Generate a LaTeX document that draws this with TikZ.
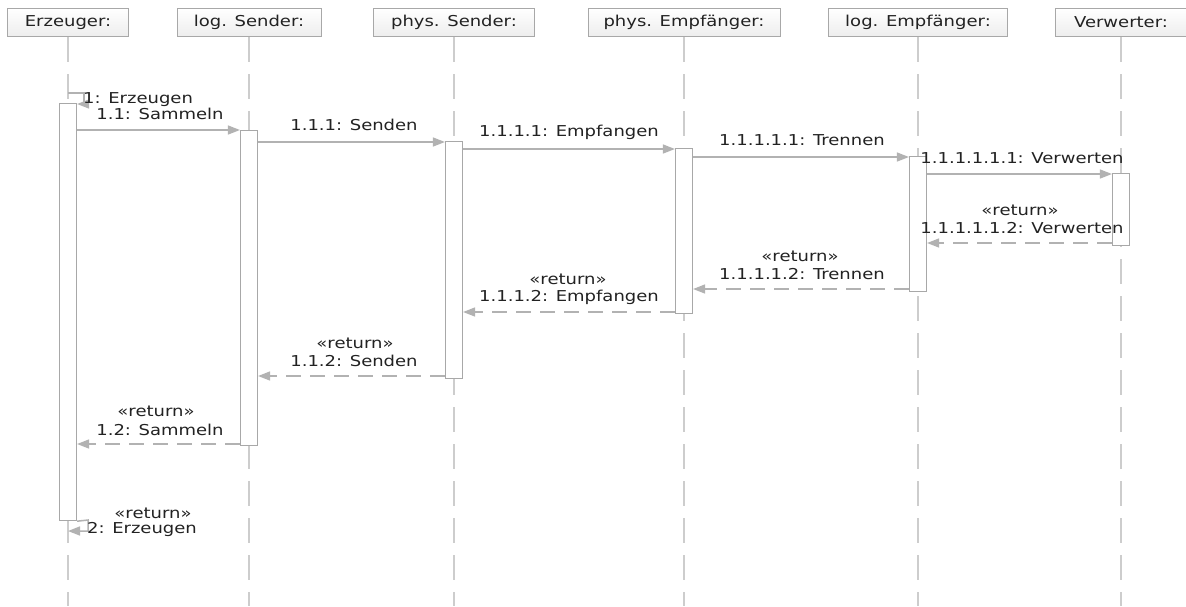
\documentclass[tikz,border=0pt]{standalone}
\usepackage{fontspec}
\setmainfont{DejaVu Sans}[FakeStretch=1.2]
\usetikzlibrary{arrows.meta}
\definecolor{linegray}{HTML}{B2B2B2}
\definecolor{lifegray}{HTML}{CDCDCD}
\definecolor{bargray}{HTML}{A8A8A8}
\definecolor{txt}{HTML}{222222}
\begin{document}
\begin{tikzpicture}[x=1pt,y=-1pt,
  every node/.style={font=\fontsize{15}{17}\selectfont, text=txt, inner sep=0pt},
  head/.style={draw=bargray, line width=1pt, top color=white, bottom color=gray!14,
    minimum height=28pt, anchor=north},
  life/.style={draw=lifegray, line width=1.6pt, dash pattern=on 25pt off 12pt},
  bar/.style={draw=bargray, fill=white, line width=1.2pt, minimum width=17pt, anchor=north},
  msg/.style={draw=linegray, line width=1.5pt, -{Triangle[length=12pt,width=9pt]}},
  ret/.style={msg, dash pattern=on 15pt off 9pt}]
\useasboundingbox (0,0) rectangle (1186,606);
\fill[white] (0,0) rectangle (1186,606);
% headers
\node[head, minimum width=121pt] (h1) at (68,8) {Erzeuger:};
\node[head, minimum width=144pt] (h2) at (249,8) {log. Sender:};
\node[head, minimum width=161pt] (h3) at (454,8) {phys. Sender:};
\node[head, minimum width=192pt] (h4) at (684,8) {phys. Empfänger:};
\node[head, minimum width=179pt] (h5) at (918,8) {log. Empfänger:};
\node[head, minimum width=131pt] (h6) at (1121,8) {Verwerter:};
% lifelines
\coordinate (e1) at (68,606);
\coordinate (e2) at (249,606);
\coordinate (e3) at (454,606);
\coordinate (e4) at (684,606);
\coordinate (e5) at (918,606);
\coordinate (e6) at (1121,606);
\foreach \i in {1,...,6} \draw[life] (h\i.south) -- (e\i);
% activation bars
\node[bar, minimum height=417pt] (b1) at (68,103) {};
\node[bar, minimum height=315pt] (b2) at (249,130) {};
\node[bar, minimum height=237pt] (b3) at (454,141) {};
\node[bar, minimum height=165pt] (b4) at (684,148) {};
\node[bar, minimum height=135pt] (b5) at (918,156) {};
\node[bar, minimum height=72pt] (b6) at (1121,173) {};
% self call 1
\coordinate (s1a) at (68,93);
\coordinate (s1b) at (84,93);
\coordinate (s1c) at (84,104);
\draw[msg] (s1a) -- (s1b) -- (s1c) -- (b1.east |- s1c);
\node[anchor=west] (t1) at (83,100) {1: Erzeugen};
% calls
\draw[msg] (b1.east |- 0,130) -- (b2.west |- 0,130);
\node (t11) at (160,114) {1.1: Sammeln};
\draw[msg] (b2.east |- 0,142) -- (b3.west |- 0,142);
\node (t111) at (354,125) {1.1.1: Senden};
\draw[msg] (b3.east |- 0,149) -- (b4.west |- 0,149);
\node (t1111) at (569,132) {1.1.1.1: Empfangen};
\draw[msg] (b4.east |- 0,157) -- (b5.west |- 0,157);
\node (t11111) at (802,140) {1.1.1.1.1: Trennen};
\draw[msg] (b5.east |- 0,174) -- (b6.west |- 0,174);
\node (t111111) at (1022,158) {1.1.1.1.1.1: Verwerten};
% returns
\draw[ret] (b6.west |- 0,243) -- (b5.east |- 0,243);
\node (r6a) at (1020,210) {«return»};
\node (r6b) at (1022,228) {1.1.1.1.1.2: Verwerten};
\draw[ret] (b5.west |- 0,289) -- (b4.east |- 0,289);
\node (r5a) at (800,256) {«return»};
\node (r5b) at (802,274) {1.1.1.1.2: Trennen};
\draw[ret] (b4.west |- 0,312) -- (b3.east |- 0,312);
\node (r4a) at (568,279) {«return»};
\node (r4b) at (569,297) {1.1.1.2: Empfangen};
\draw[ret] (b3.west |- 0,376) -- (b2.east |- 0,376);
\node (r3a) at (355,343) {«return»};
\node (r3b) at (354,361) {1.1.2: Senden};
\draw[ret] (b2.west |- 0,444) -- (b1.east |- 0,444);
\node (r2a) at (156,411) {«return»};
\node (r2b) at (160,430) {1.2: Sammeln};
% self return 2
\coordinate (s2b) at (88,520);
\coordinate (s2c) at (88,531);
\coordinate (s2d) at (68,531);
\draw[msg] (b1.south east) -- (s2b) -- (s2c) -- (s2d);
\node (r1a) at (153,513) {«return»};
\node (r1b) at (142,529) {2: Erzeugen};
\end{tikzpicture}
\end{document}
